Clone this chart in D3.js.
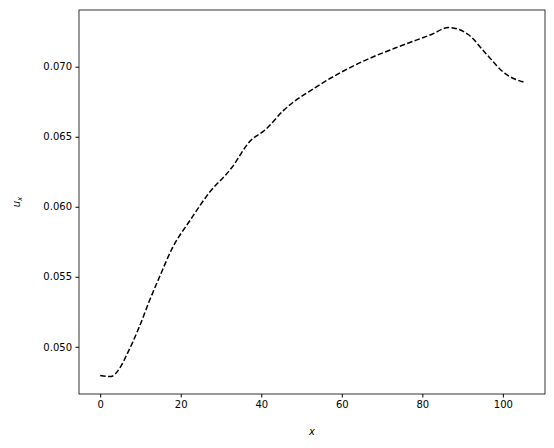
<!DOCTYPE html>
<html>
<head>
<meta charset="UTF-8">
<script src="https://d3js.org/d3.v7.min.js"></script>
<style>
  body { margin: 0; background: #fff; }
  text { font-family: 'DejaVu Sans', sans-serif; }
</style>
</head>
<body>
<svg id="chart" width="554" height="448"></svg>
<script>
// values
let xs = [0, 2.7, 4.75, 6.8, 9.75, 12.25, 14.75, 18, 22.25, 26.8, 32.7, 37.25, 41, 45.6, 53.9, 63.9, 74.75, 82.25, 86.5, 91.4, 95.6, 100.6, 105.2]
let ux = [0.04795, 0.04788, 0.04843, 0.04955, 0.05145, 0.0533, 0.0550, 0.0571, 0.0590, 0.0609, 0.0628, 0.0647, 0.0655, 0.0669, 0.0686, 0.0702, 0.0715, 0.0723, 0.0728, 0.0723, 0.0710, 0.0695, 0.0689]
let xTicks = [0, 20, 40, 60, 80, 100]
let yTicks = [0.050, 0.055, 0.060, 0.065, 0.070]

let svg = d3.select('#chart')
let mLeft = 79, mRight = 545, mTop = 10, mBottom = 394

let x = d3.scaleLinear().domain([-5.26, 110.46]).range([mLeft, mRight])
let y = d3.scaleLinear().domain([0.04663, 0.07405]).range([mBottom, mTop])

svg.append('g')
    .attr('transform', `translate(0,${mBottom})`)
    .call(d3.axisBottom(x).tickValues(xTicks).tickSize(3.5).tickPadding(3.5).tickFormat(d3.format('d')))
svg.append('g')
    .attr('transform', `translate(${mLeft},0)`)
    .call(d3.axisLeft(y).tickValues(yTicks).tickSize(3.5).tickPadding(3.5).tickFormat(d3.format('.3f')))

svg.selectAll('.tick text').attr('font-size', 10).attr('fill', '#000')
svg.selectAll('.domain').remove()

svg.append('rect')
    .attr('x', mLeft).attr('y', mTop)
    .attr('width', mRight - mLeft).attr('height', mBottom - mTop)
    .attr('fill', 'none').attr('stroke', '#000').attr('stroke-width', 0.8)

let line = d3.line().x((d, i) => x(xs[i])).y(d => y(d)).curve(d3.curveMonotoneX)
svg.append('path')
    .datum(ux)
    .attr('d', line)
    .attr('fill', 'none')
    .attr('stroke', '#000')
    .attr('stroke-width', 1.5)
    .attr('stroke-dasharray', '5.5,2.4')

svg.append('text')
    .attr('x', (mLeft + mRight) / 2).attr('y', 435)
    .attr('text-anchor', 'middle').attr('font-size', 10).attr('font-style', 'italic')
    .text('x')

let yl = svg.append('text')
    .attr('transform', `translate(20,${(mTop + mBottom) / 2}) rotate(-90)`)
    .attr('text-anchor', 'middle').attr('font-size', 10).attr('font-style', 'italic')
yl.append('tspan').text('u')
yl.append('tspan').attr('font-size', 7).attr('dy', 2).text('x')
</script>
</body>
</html>
